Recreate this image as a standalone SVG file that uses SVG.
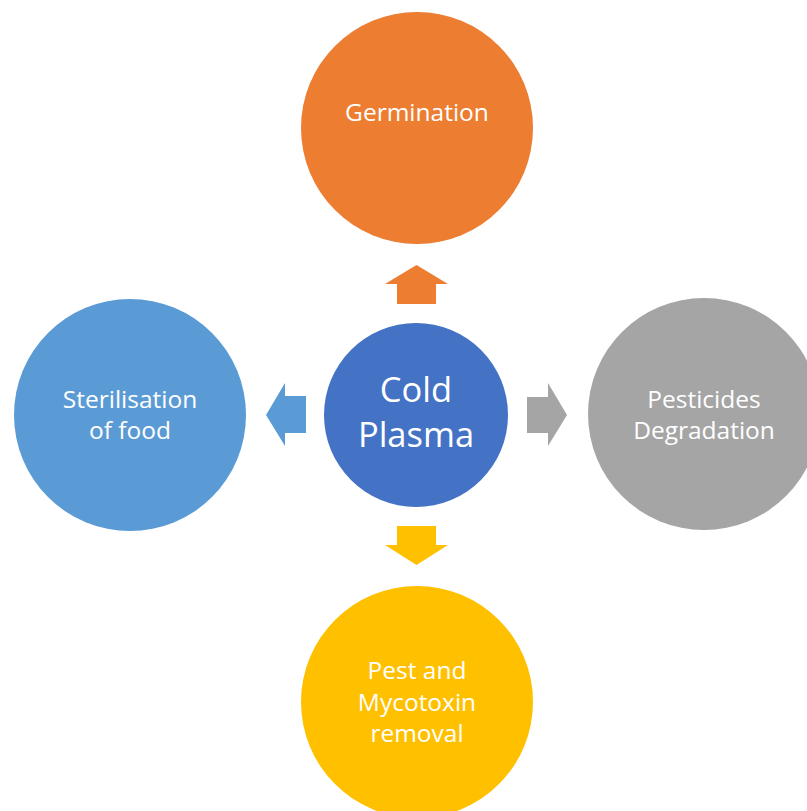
<svg xmlns="http://www.w3.org/2000/svg" width="807" height="811" viewBox="0 0 807 811">
<style>
.lbl{font-family:"Open Sans","Liberation Sans",sans-serif;font-size:24.5px;fill:#ffffff;text-anchor:middle}
.big{font-size:34.5px}
</style>
<rect width="807" height="811" fill="#ffffff"/>
<g id="connectors">
<polygon points="416.5,265 448,284 436,284 436,304 397,304 397,284 385,284" fill="#ED7D31"/>
<polygon points="266,415 285,383 285,396 306,396 306,433 285,433 285,446" fill="#5B9BD5"/>
<polygon points="567,415 548,383 548,397 527,397 527,433 548,433 548,446" fill="#A5A5A5"/>
<polygon points="416.5,565 448,545 436,545 436,526 397,526 397,545 385,545" fill="#FFC000"/>
</g>
<g id="center">
<circle cx="416" cy="415" r="92" fill="#4472C4"/>
<text class="lbl big" x="416" y="402">Cold</text>
<text class="lbl big" x="416" y="447">Plasma</text>
</g>
<g id="germination">
<circle cx="417" cy="128" r="116" fill="#ED7D31"/>
<text class="lbl" x="417" y="121">Germination</text>
</g>
<g id="sterilisation">
<circle cx="130" cy="415" r="116" fill="#5B9BD5"/>
<text class="lbl" x="130" y="408">Sterilisation</text>
<text class="lbl" x="130" y="439">of food</text>
</g>
<g id="pesticides">
<circle cx="704" cy="414" r="116" fill="#A5A5A5"/>
<text class="lbl" x="704" y="408">Pesticides</text>
<text class="lbl" x="704" y="439">Degradation</text>
</g>
<g id="pest">
<circle cx="417" cy="702" r="116" fill="#FFC000"/>
<text class="lbl" x="417" y="679">Pest and</text>
<text class="lbl" x="417" y="711">Mycotoxin</text>
<text class="lbl" x="417" y="742">removal</text>
</g>
</svg>
